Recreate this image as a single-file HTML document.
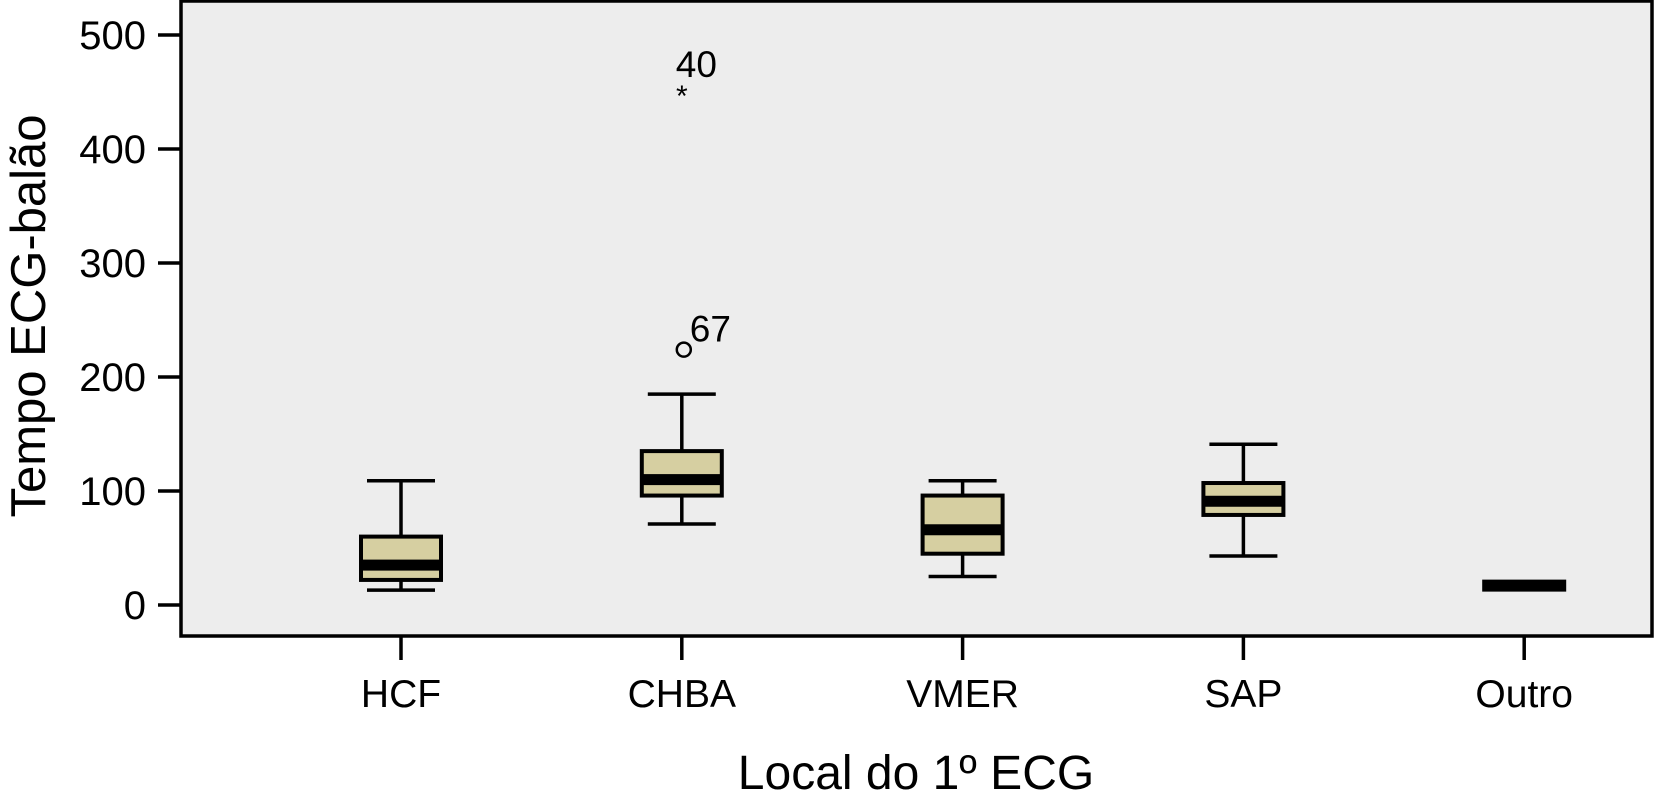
<!DOCTYPE html>
<html><head><meta charset="utf-8"><style>
body{margin:0;background:#fff}
svg{display:block;font-family:"Liberation Sans",Arial,sans-serif}
</style></head><body>
<svg id="chart" width="1655" height="812" xmlns="http://www.w3.org/2000/svg">
<rect x="181" y="1" width="1471" height="635" fill="#ededed" stroke="#000" stroke-width="3.5"/>
<g id="yaxis"></g>
<g id="xaxis"></g>
<g id="boxes"></g>
<text x="916" y="789" font-size="48" text-anchor="middle">Local do 1º ECG</text>
<text transform="translate(45,316) rotate(-90)" font-size="49" text-anchor="middle">Tempo ECG-balão</text>
</svg>
<script>
const categories=["HCF","CHBA","VMER","SAP","Outro"];
const whiskerHigh=[109,185,109,141,17];
const q3=[60,135,96,107,17];
const median=[35,110,66,91,17];
const q1=[22,96,45,79,17];
const whiskerLow=[13,71,25,43,17];
const outlierCat=["CHBA","CHBA"];
const outlierVal=[224,450];
const outlierLabel=["67","40"];
const outlierType=["circle","star"];
const yTicks=[0,100,200,300,400,500];

const NS="http://www.w3.org/2000/svg";
const Y=v=>605-1.14*v;
const X=i=>401+280.8*i;
function mk(p,tag,a){const e=document.createElementNS(NS,tag);for(const k in a)e.setAttribute(k,a[k]);p.appendChild(e);return e;}
const ya=document.getElementById('yaxis'),xa=document.getElementById('xaxis'),bx=document.getElementById('boxes');
yTicks.forEach(t=>{
  const l=mk(ya,'line',{x1:158,x2:181,y1:Y(t),y2:Y(t),stroke:'#000','stroke-width':3.5});
  
  
  const tx=mk(ya,'text',{x:146,y:Y(t)+14,'font-size':40,'text-anchor':'end'});
  tx.textContent=t;
  
  
});
categories.forEach((c,i)=>{
  const x=X(i);
  const l=mk(xa,'line',{x1:x,x2:x,y1:636,y2:660,stroke:'#000','stroke-width':3.5});
  
  
  const tx=mk(xa,'text',{x:x,y:707,'font-size':39,'text-anchor':'middle'});
  tx.textContent=c;
  
  
  const g=mk(bx,'g',{});
  
  
  if(q3[i]===q1[i]){
    mk(g,'rect',{x:x-42,y:Y(median[i])-6,width:84,height:12,fill:'#000'});
    return;
  }
  mk(g,'line',{x1:x,x2:x,y1:Y(whiskerHigh[i]),y2:Y(q3[i]),stroke:'#000','stroke-width':3.5});
  mk(g,'line',{x1:x,x2:x,y1:Y(q1[i]),y2:Y(whiskerLow[i]),stroke:'#000','stroke-width':3.5});
  mk(g,'line',{x1:x-34,x2:x+34,y1:Y(whiskerHigh[i]),y2:Y(whiskerHigh[i]),stroke:'#000','stroke-width':3.5});
  mk(g,'line',{x1:x-34,x2:x+34,y1:Y(whiskerLow[i]),y2:Y(whiskerLow[i]),stroke:'#000','stroke-width':3.5});
  mk(g,'rect',{x:x-40,y:Y(q3[i]),width:80,height:Y(q1[i])-Y(q3[i]),fill:'#d6cfa1',stroke:'#000','stroke-width':4});
  mk(g,'rect',{x:x-40,y:Y(median[i])-5.5,width:80,height:11,fill:'#000'});
});
outlierVal.forEach((v,j)=>{
  const x=X(categories.indexOf(outlierCat[j])),y=Y(v);
  const g=mk(bx,'g',{});
  
  
  if(outlierType[j]==='circle'){
    mk(g,'circle',{cx:x+2,cy:y,r:7,fill:'none',stroke:'#000','stroke-width':2.5});
    const t=mk(g,'text',{x:x+8,y:y-8,'font-size':37});t.textContent=outlierLabel[j];
  }else{
    const s=mk(g,'text',{x:x,y:y+14,'font-size':30,'text-anchor':'middle'});s.textContent='*';
    const t=mk(g,'text',{x:x-6,y:y-15,'font-size':37});t.textContent=outlierLabel[j];
  }
});
</script>
</body></html>
